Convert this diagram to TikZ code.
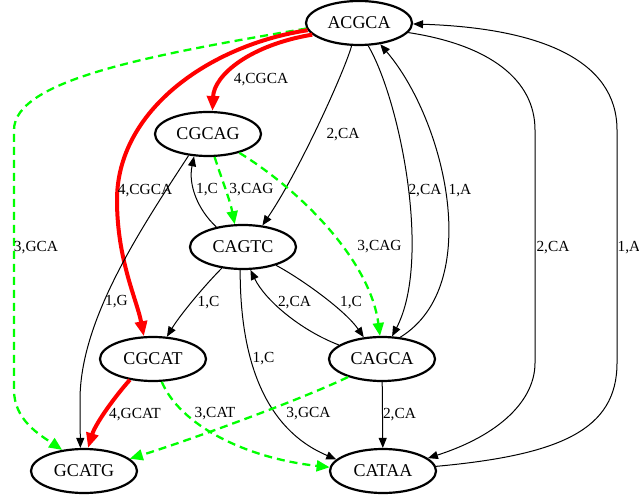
\documentclass[tikz,border=0pt]{standalone}
\usepackage{fontspec}
\setmainfont{Liberation Serif}
\usetikzlibrary{shapes.geometric,arrows.meta}
\definecolor{gg}{RGB}{0,255,0}
\definecolor{rr}{RGB}{255,0,0}
\begin{document}
\begin{tikzpicture}[x=1pt,y=-1pt,
  st/.style={ellipse,draw,line width=2.2pt,minimum width=106pt,minimum height=44pt,inner sep=0pt,font=\fontsize{18}{20}\selectfont},
  lab/.style={font=\fontsize{15.4}{17}\selectfont,inner sep=0pt},
  blk/.style={line width=1pt,-{Triangle[length=10pt,width=8pt]}},
  redE/.style={draw=rr,line width=4pt,-{Triangle[length=15pt,width=12pt]}},
  grn/.style={draw=gg,line width=2.3pt,dash pattern=on 8pt off 5pt,-{Triangle[length=13pt,width=11pt]}}]
\useasboundingbox (0,0) rectangle (639,502);
% nodes
\node[st] (ACGCA) at (359,23) {ACGCA};
\node[st] (CGCAG) at (208,134) {CGCAG};
\node[st] (CAGTC) at (243,247) {CAGTC};
\node[st] (CGCAT) at (153,359) {CGCAT};
\node[st] (CAGCA) at (382,359) {CAGCA};
\node[st] (GCATG) at (84,471) {GCATG};
\node[st] (CATAA) at (383,471) {CATAA};
% edges
\draw[grn] (ACGCA.186) .. controls (150,55) and (14,80) .. (14,130) -- (14,390) .. controls (14,420) and (40,435) .. (GCATG.136);
\draw[redE] (ACGCA.194) .. controls (250,45) and (214,75) .. (CGCAG.79);
\draw[redE] (ACGCA.188) .. controls (210,45) and (117,110) .. (117,200) .. controls (117,260) and (137,300) .. (CGCAT.112);
\draw[blk] (ACGCA.252) .. controls (345,70) and (300,170) .. (CAGTC.48);
\draw[blk] (ACGCA.292) .. controls (400,100) and (432,260) .. (CAGCA.66);
\draw[blk] (CAGCA.50) .. controls (485,285) and (445,120) .. (ACGCA.315);
\draw[blk] (ACGCA.349) .. controls (490,45) and (535,80) .. (535,130) -- (535,363) .. controls (535,400) and (500,435) .. (CATAA.16);
\draw[blk] (CATAA.5) .. controls (560,455) and (617,430) .. (617,363) -- (617,130) .. controls (617,60) and (540,28) .. (ACGCA.359);
\draw[grn] (CGCAG.286) .. controls (222,180) and (230,200) .. (CAGTC.110);
\draw[blk] (CAGTC.143) .. controls (198,210) and (188,185) .. (CGCAG.238);
\draw[grn] (CGCAG.329) .. controls (300,190) and (370,260) .. (CAGCA.95);
\draw[blk] (CGCAG.228) .. controls (140,230) and (80,320) .. (80,400) -- (GCATG.99);
\draw[blk] (CAGTC.225) .. controls (205,285) and (180,315) .. (CGCAT.58);
\draw[blk] (CAGTC.331) .. controls (300,278) and (345,310) .. (CAGCA.130);
\draw[blk] (CAGCA.162) .. controls (300,330) and (265,300) .. (CAGTC.288);
\draw[blk] (CAGTC.263) .. controls (240,340) and (255,425) .. (CATAA.166);
\draw[redE] (CGCAT.222) .. controls (112,400) and (95,425) .. (GCATG.80);
\draw[grn] (CGCAT.291) .. controls (180,425) and (245,458) .. (CATAA.176);
\draw[grn] (CAGCA.208) .. controls (300,400) and (190,440) .. (GCATG.15);
\draw[blk] (CAGCA) -- (CATAA);
% labels
\node[lab] (l1) at (261,80) {4,CGCA};
\node[lab] (l2) at (145,191) {4,CGCA};
\node[lab] (l3) at (36,248) {3,GCA};
\node[lab] (l4) at (343,135) {2,CA};
\node[lab] (l5) at (425,191) {2,CA};
\node[lab] (l6) at (460,191) {1,A};
\node[lab] (l7) at (553,248) {2,CA};
\node[lab] (l8) at (629,248) {1,A};
\node[lab] (l9) at (207,190) {1,C};
\node[lab] (l10) at (251.5,190) {3,CAG};
\node[lab] (l11) at (379.5,247) {3,CAG};
\node[lab] (l12) at (116.5,302) {1,G};
\node[lab] (l13) at (208.5,303) {1,C};
\node[lab] (l14) at (294.5,303) {2,CA};
\node[lab] (l15) at (351,303) {1,C};
\node[lab] (l16) at (263.5,359) {1,C};
\node[lab] (l17) at (135,415) {4,GCAT};
\node[lab] (l18) at (215,414) {3,CAT};
\node[lab] (l19) at (308.5,414) {3,GCA};
\node[lab] (l20) at (399.5,415) {2,CA};
\end{tikzpicture}
\end{document}
